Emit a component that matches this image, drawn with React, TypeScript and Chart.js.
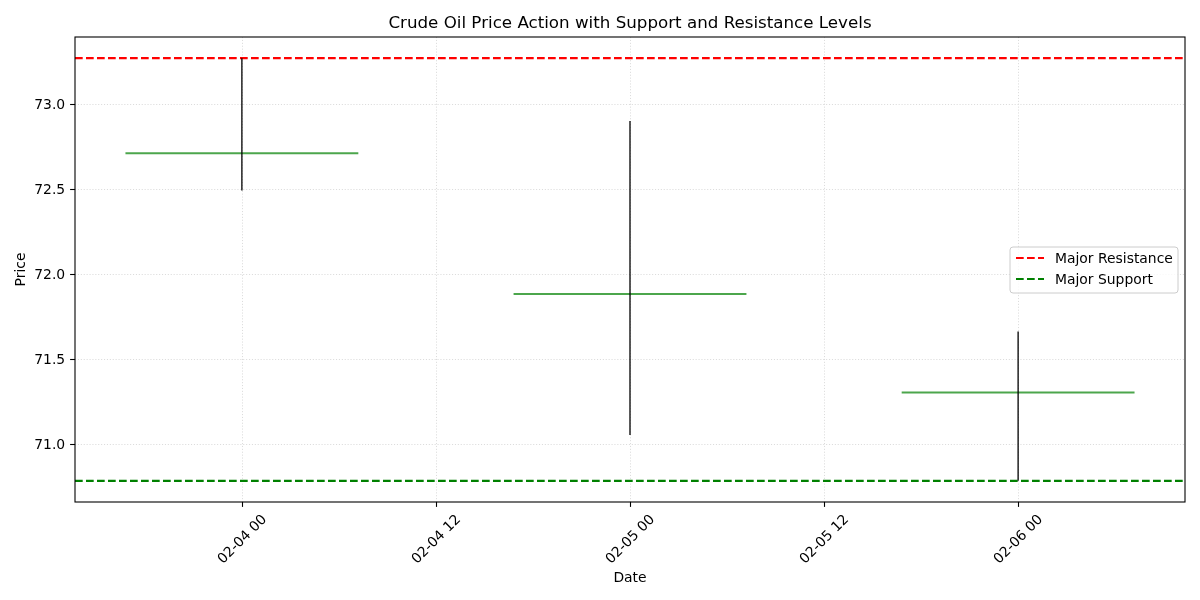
import React, { useEffect, useRef } from "react";
import { Chart, registerables } from "chart.js";

Chart.register(...registerables);

// ---- data ----
const candleHours = [0, 24, 48]; // hours after 02-04 00:00
const openPrices = [72.71, 71.88, 71.3];
const closePrices = [72.71, 71.88, 71.3];
const highPrices = [73.27, 72.9, 71.66];
const lowPrices = [72.49, 71.05, 70.78];
const resistanceLevel = 73.27;
const supportLevel = 70.78;
const xTickHours = [0, 12, 24, 36, 48];
const xTickLabels = ["02-04 00", "02-04 12", "02-05 00", "02-05 12", "02-06 00"];
const yTickValues = [71.0, 71.5, 72.0, 72.5, 73.0];
const yTickLabels = ["71.0", "71.5", "72.0", "72.5", "73.0"];
const candleWidthHours = 14.4;

const FONT = "'DejaVu Sans', sans-serif";

const customPlugin = {
  id: "custom",
  beforeDatasetsDraw(chart: any) {
    const { ctx, chartArea: a, scales } = chart;
    const xs = scales.x;
    const ys = scales.y;
    ctx.save();
    ctx.strokeStyle = "#dcdcdc";
    ctx.lineWidth = 1;
    ctx.setLineDash([1.1, 1.8]);
    xTickHours.forEach((h) => {
      const x = Math.round(xs.getPixelForValue(h)) + 0.5;
      ctx.beginPath();
      ctx.moveTo(x, a.top);
      ctx.lineTo(x, a.bottom);
      ctx.stroke();
    });
    yTickValues.forEach((v) => {
      const y = Math.round(ys.getPixelForValue(v)) + 0.5;
      ctx.beginPath();
      ctx.moveTo(a.left, y);
      ctx.lineTo(a.right, y);
      ctx.stroke();
    });
    ctx.restore();
  },
  afterDatasetsDraw(chart: any) {
    const { ctx, chartArea: a, scales } = chart;
    const xs = scales.x;
    const ys = scales.y;
    ctx.save();
    ctx.setLineDash([]);
    // frame
    ctx.strokeStyle = "#000";
    ctx.lineWidth = 1.1;
    ctx.strokeRect(a.left, a.top, a.right - a.left, a.bottom - a.top);
    // ticks
    ctx.fillStyle = "#000";
    ctx.font = `13.9px ${FONT}`;
    const tl = 4.9;
    xTickHours.forEach((h, i) => {
      const x = Math.round(xs.getPixelForValue(h)) + 0.5;
      ctx.beginPath();
      ctx.moveTo(x, a.bottom);
      ctx.lineTo(x, a.bottom + tl);
      ctx.stroke();
      const w = ctx.measureText(xTickLabels[i]).width;
      const th = 16;
      const bb = (w + th) * Math.SQRT1_2;
      ctx.save();
      ctx.translate(x, a.bottom + tl + 4.9 + bb / 2);
      ctx.rotate(-Math.PI / 4);
      ctx.textAlign = "center";
      ctx.textBaseline = "middle";
      ctx.fillText(xTickLabels[i], 0, 0);
      ctx.restore();
    });
    yTickValues.forEach((v, i) => {
      const y = Math.round(ys.getPixelForValue(v)) + 0.5;
      ctx.beginPath();
      ctx.moveTo(a.left, y);
      ctx.lineTo(a.left - tl, y);
      ctx.stroke();
      ctx.textAlign = "right";
      ctx.textBaseline = "middle";
      ctx.fillText(yTickLabels[i], a.left - tl - 4.9, y + 1);
    });
    // titles
    ctx.textAlign = "center";
    ctx.textBaseline = "middle";
    ctx.font = `16.7px ${FONT}`;
    ctx.fillText(
      "Crude Oil Price Action with Support and Resistance Levels",
      (a.left + a.right) / 2,
      24
    );
    ctx.font = `13.9px ${FONT}`;
    ctx.fillText("Date", (a.left + a.right) / 2, 578);
    ctx.save();
    ctx.translate(21, (a.top + a.bottom) / 2);
    ctx.rotate(-Math.PI / 2);
    ctx.fillText("Price", 0, 0);
    ctx.restore();
    // legend
    const lx = 1010, ly = 247, lw = 168, lh = 46, r = 3;
    ctx.beginPath();
    ctx.moveTo(lx + r, ly);
    ctx.arcTo(lx + lw, ly, lx + lw, ly + lh, r);
    ctx.arcTo(lx + lw, ly + lh, lx, ly + lh, r);
    ctx.arcTo(lx, ly + lh, lx, ly, r);
    ctx.arcTo(lx, ly, lx + lw, ly, r);
    ctx.closePath();
    ctx.fillStyle = "rgba(255,255,255,0.8)";
    ctx.fill();
    ctx.strokeStyle = "#cccccc";
    ctx.lineWidth = 1;
    ctx.stroke();
    const items = [
      { label: "Major Resistance", color: "#ff0000", y: 258 },
      { label: "Major Support", color: "#008000", y: 279 },
    ];
    items.forEach((it) => {
      ctx.strokeStyle = it.color;
      ctx.lineWidth = 2.1;
      ctx.setLineDash([7.7, 3.3]);
      ctx.beginPath();
      ctx.moveTo(1016, it.y);
      ctx.lineTo(1044, it.y);
      ctx.stroke();
      ctx.setLineDash([]);
      ctx.fillStyle = "#000";
      ctx.textAlign = "left";
      ctx.textBaseline = "middle";
      ctx.fillText(it.label, 1055, it.y + 1);
    });
    ctx.restore();
  },
};

export default function App() {
  const ref = useRef<HTMLCanvasElement | null>(null);
  useEffect(() => {
    if (!ref.current) return;
    const lows = Math.min(...lowPrices);
    const highs = Math.max(...highPrices);
    const yr = highs - lows;
    const xLo = Math.min(...candleHours) - candleWidthHours / 2;
    const xHi = Math.max(...candleHours) + candleWidthHours / 2;
    const xr = xHi - xLo;
    const xMin = xLo - 0.05 * xr;
    const xMax = xHi + 0.05 * xr;

    const datasets: any[] = [];
    candleHours.forEach((h, i) => {
      datasets.push({
        label: `wick${i}`,
        data: [
          { x: h, y: lowPrices[i] },
          { x: h, y: highPrices[i] },
        ],
        borderColor: "#000000",
        borderWidth: 1.3,
        pointRadius: 0,
        order: 0,
      });
      datasets.push({
        label: `body${i}`,
        data: [
          { x: h - candleWidthHours / 2, y: openPrices[i] },
          { x: h + candleWidthHours / 2, y: closePrices[i] },
        ],
        borderColor: "rgba(0,128,0,0.7)",
        borderWidth: 2,
        pointRadius: 0,
        order: 1,
      });
    });
    datasets.push({
      label: "Major Resistance",
      data: [
        { x: xMin, y: resistanceLevel },
        { x: xMax, y: resistanceLevel },
      ],
      borderColor: "#ff0000",
      borderWidth: 2.1,
      borderDash: [7.7, 3.3],
      pointRadius: 0,
      order: 2,
    });
    datasets.push({
      label: "Major Support",
      data: [
        { x: xMin, y: supportLevel },
        { x: xMax, y: supportLevel },
      ],
      borderColor: "#008000",
      borderWidth: 2.1,
      borderDash: [7.7, 3.3],
      pointRadius: 0,
      order: 2,
    });

    const chart = new Chart(ref.current, {
      type: "line",
      data: { datasets },
      options: {
        animation: false,
        responsive: false,
        devicePixelRatio: 1,
        layout: { padding: { left: 0, top: 37, right: 15, bottom: 0 } },
        plugins: { legend: { display: false }, tooltip: { enabled: false } },
        scales: {
          x: {
            type: "linear",
            min: xMin,
            max: xMax,
            grid: { display: false },
            border: { display: false },
            ticks: { display: false },
            afterBuildTicks: (s: any) => {
              s.ticks = xTickHours.map((v) => ({ value: v }));
            },
            afterFit: (s: any) => {
              s.height = 98;
            },
          },
          y: {
            type: "linear",
            min: lows - 0.05 * yr,
            max: highs + 0.05 * yr,
            grid: { display: false },
            border: { display: false },
            ticks: { display: false },
            afterBuildTicks: (s: any) => {
              s.ticks = yTickValues.map((v) => ({ value: v }));
            },
            afterFit: (s: any) => {
              s.width = 75;
            },
          },
        },
      } as any,
      plugins: [customPlugin],
    });
    return () => chart.destroy();
  }, []);
  return (
    <div style={{ position: "absolute", left: 0, top: 0, width: 1200, height: 600, background: "#fff" }}>
      <canvas ref={ref} width={1200} height={600} />
    </div>
  );
}
